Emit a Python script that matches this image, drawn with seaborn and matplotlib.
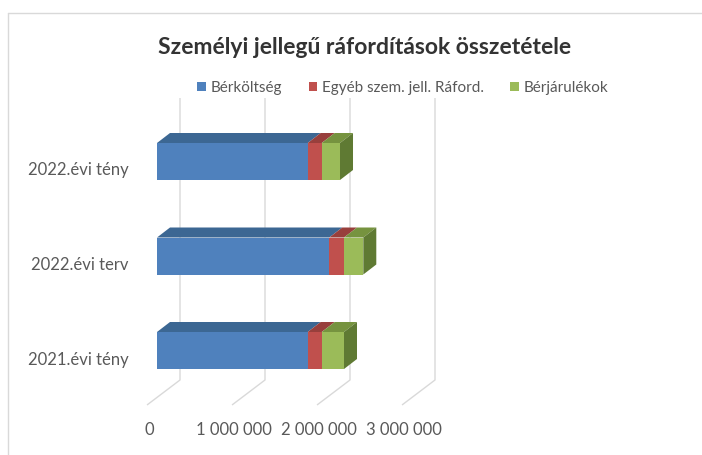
import matplotlib
matplotlib.use("Agg")
import matplotlib.pyplot as plt
import pandas as pd
import seaborn as sns
from matplotlib.patches import Polygon, Patch
from matplotlib.lines import Line2D

# data
categories = ["2022.évi tény", "2022.évi terv", "2021.évi tény"]
series = ["Bérköltség", "Egyéb szem. jell. Ráford.", "Bérjárulékok"]
berkoltseg = [1773000, 2027000, 1773000]
egyeb = [165000, 173000, 165000]
berjarulekok = [215000, 227000, 262000]
ticks = [0, 1000000, 2000000, 3000000]
tick_labels = ["0", "1 000 000", "2 000 000", "3 000 000"]

front = ["#4F81BD", "#C0504D", "#9BBB59"]
top = ["#3C6793", "#983F3C", "#76933F"]
side_green = "#5F7A33"
grid_c = "#D9D9D9"
text_c = "#595959"

sns.set_theme(style="white")
plt.rcParams["font.family"] = ["Lato", "DejaVu Sans"]

W, H = 702, 455
fig = plt.figure(figsize=(W / 100, H / 100), dpi=100)
ax = fig.add_axes([0, 0, 1, 1])

# pixel layout of the fake 3D plot
X0 = 157          # pixel of value 0 on the bar front plane
PXU = 85 / 1e6    # pixels per unit
Y0 = 161.5        # pixel of first category centre
PXC = 94.5        # pixels per category
BAR_W = 37 / PXC
DX, DY = 13, 10   # depth of the bars in pixels


def px_x(p):
    return (p - X0) / PXU


def px_y(p):
    return (p - Y0) / PXC


df = pd.DataFrame({"cat": categories, "b": berkoltseg, "e": egyeb, "j": berjarulekok})
df["c1"] = df["b"]
df["c2"] = df["b"] + df["e"]
df["c3"] = df["c2"] + df["j"]

# stacked bars: draw the cumulative totals, biggest first
for col, color in [("c3", front[2]), ("c2", front[1]), ("c1", front[0])]:
    sns.barplot(data=df, x=col, y="cat", order=categories, orient="h",
                color=color, width=BAR_W, saturation=1, linewidth=0, ax=ax, zorder=3)

ax.set_xlim(px_x(0), px_x(W))
ax.set_ylim(px_y(H), px_y(0))
ax.set_axis_off()

# back wall and floor grid lines
back = (180 - X0) / PXU
floor = (147 - X0) / PXU
for t, lab in zip(ticks, tick_labels):
    ax.plot([t + back, t + back, t + floor], [px_y(98), px_y(380), px_y(405)],
            color=grid_c, lw=1, zorder=1, solid_capstyle="butt")
    ax.text(t + floor + 2 / PXU, px_y(430), lab, ha="center", va="center",
            fontsize=12, color=text_c)

# 3D faces from the bar geometry
dx = DX / PXU
dy = DY / PXC
for i, cat in enumerate(categories):
    edges = [0, df["c1"][i], df["c2"][i], df["c3"][i]]
    yt = i - BAR_W / 2
    yb = i + BAR_W / 2
    for k in range(3):
        x0, x1 = edges[k], edges[k + 1]
        ax.add_patch(Polygon([(x0, yt), (x1, yt), (x1 + dx, yt - dy), (x0 + dx, yt - dy)],
                             closed=True, fc=top[k], ec="none", zorder=4))
    x1 = edges[3]
    ax.add_patch(Polygon([(x1, yt), (x1, yb), (x1 + dx, yb - dy), (x1 + dx, yt - dy)],
                         closed=True, fc=side_green, ec="none", zorder=4))
    ax.text(px_x(129), i + 9 / PXC, cat, ha="right", va="center",
            fontsize=12, color=text_c)

# chart frame
fig.add_artist(Line2D([8 / W, 8 / W], [0, 1 - 13 / H], color=grid_c, lw=1))
fig.add_artist(Line2D([8 / W, 1], [1 - 13 / H, 1 - 13 / H], color=grid_c, lw=1))

fig.text(365 / W, 1 - 47 / H, "Személyi jellegű ráfordítások összetétele",
         ha="center", va="center", fontsize=16.5, fontweight="bold", color="#333333")

handles = [Patch(fc=c, ec="none") for c in front]
fig.legend(handles, series, loc="center", bbox_to_anchor=(403 / W, 1 - 88 / H),
           ncol=3, frameon=False, fontsize=11, handlelength=0.55, handleheight=0.55,
           handletextpad=0.35, columnspacing=1.7, labelcolor=text_c)

fig.savefig("out.png", dpi=100, facecolor="white")
